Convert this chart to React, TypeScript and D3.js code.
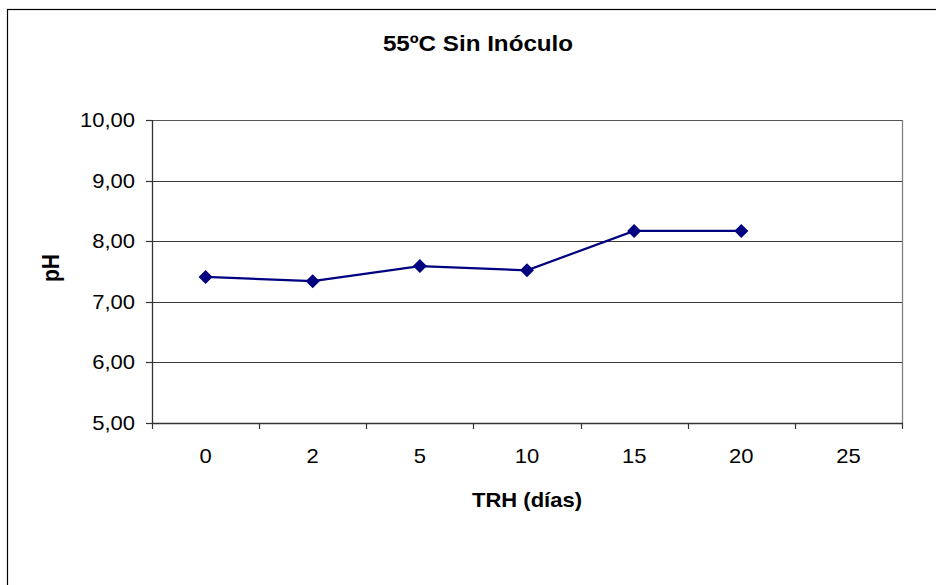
import React from "react";
import * as d3 from "d3";

const categories = ["0", "2", "5", "10", "15", "20", "25"];
const phValues = [7.41, 7.34, 7.59, 7.52, 8.17, 8.17];
const yTicks = [5, 6, 7, 8, 9, 10];
const title = "55ºC Sin Inóculo";
const xTitle = "TRH (días)";
const yTitle = "pH";

const W = 936;
const H = 585;
const plot = { left: 152, top: 120, right: 902, bottom: 423 };
const FONT = "'Liberation Sans', Arial, sans-serif";
const SX = 1.1; // horizontal glyph stretch

export default function App() {
  const x = d3.scaleBand<string>().domain(categories).range([plot.left, plot.right]).padding(0);
  const y = d3.scaleLinear().domain([5, 10]).range([plot.bottom, plot.top]);
  const fmt = (v: number) => d3.format(".2f")(v).replace(".", ",");

  const pts = phValues.map((v, i) => [x(categories[i])! + x.bandwidth() / 2, y(v)] as [number, number]);
  const line = d3.line()(pts) || "";
  const bounds = categories.map((c) => x(c)!).concat([plot.right]);
  const r = 7;

  return (
    <svg width={W} height={H} style={{ position: "absolute", left: 0, top: 0, background: "#fff" }}>
      <rect x={0} y={0} width={W} height={H} fill="#fff" />
      <rect x={7.5} y={9.5} width={960} height={620} fill="none" stroke="#000" strokeWidth={1.2} />

      {/* gridlines */}
      {yTicks.slice(1).map((t) => (
        <line key={t} x1={plot.left} x2={plot.right} y1={Math.round(y(t)) + 0.5} y2={Math.round(y(t)) + 0.5} stroke="#3a3a3a" strokeWidth={1} />
      ))}
      {/* plot frame right */}
      <line x1={plot.right + 0.5} x2={plot.right + 0.5} y1={plot.top} y2={plot.bottom} stroke="#808080" strokeWidth={1.3} />
      <line x1={plot.left} x2={plot.right} y1={plot.top + 0.5} y2={plot.top + 0.5} stroke="#555" strokeWidth={1.2} />

      {/* y axis */}
      <line x1={plot.left + 0.5} x2={plot.left + 0.5} y1={plot.top} y2={plot.bottom} stroke="#333" strokeWidth={1.3} />
      {yTicks.map((t) => (
        <g key={t}>
          <line x1={plot.left - 6} x2={plot.left} y1={Math.round(y(t)) + 0.5} y2={Math.round(y(t)) + 0.5} stroke="#333" strokeWidth={1.2} />
          <text
            transform={`translate(${plot.left - 17},${y(t) + 7}) scale(${SX},1)`}
            textAnchor="end"
            fontFamily={FONT}
            fontSize={20}
            fill="#000"
          >
            {fmt(t)}
          </text>
        </g>
      ))}

      {/* x axis */}
      <line x1={plot.left} x2={plot.right + 1} y1={plot.bottom + 0.5} y2={plot.bottom + 0.5} stroke="#333" strokeWidth={1.5} />
      {bounds.map((b, i) => (
        <line key={i} x1={Math.round(b) + 0.5} x2={Math.round(b) + 0.5} y1={plot.bottom} y2={plot.bottom + 6} stroke="#333" strokeWidth={1.2} />
      ))}
      {categories.map((c) => (
        <text
          key={c}
          transform={`translate(${x(c)! + x.bandwidth() / 2},${plot.bottom + 40}) scale(${SX},1)`}
          textAnchor="middle"
          fontFamily={FONT}
          fontSize={20}
          fill="#000"
        >
          {c}
        </text>
      ))}

      {/* series */}
      <path d={line} fill="none" stroke="#000080" strokeWidth={2.2} />
      {pts.map(([px, py], i) => (
        <path key={i} d={`M${px},${py - r}L${px + r},${py}L${px},${py + r}L${px - r},${py}Z`} fill="#000080" />
      ))}

      {/* titles */}
      <text transform={`translate(478,51) scale(${SX},1)`} textAnchor="middle" fontFamily={FONT} fontWeight="bold" fontSize={22} fill="#000">
        {title}
      </text>
      <text transform={`translate(527,507) scale(${SX},1)`} textAnchor="middle" fontFamily={FONT} fontWeight="bold" fontSize={20} fill="#000">
        {xTitle}
      </text>
      <text transform={`translate(59,268) rotate(-90) scale(1,${SX})`} textAnchor="middle" fontFamily={FONT} fontWeight="bold" fontSize={21} fill="#000">
        {yTitle}
      </text>
    </svg>
  );
}
